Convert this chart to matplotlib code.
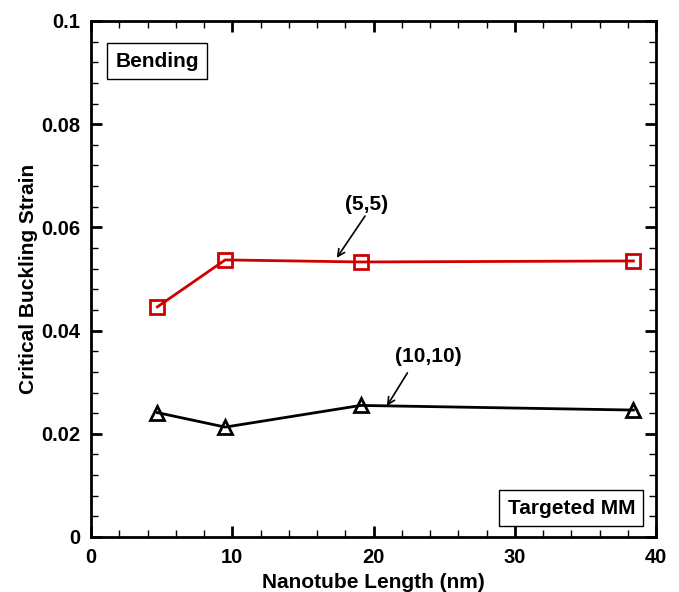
import matplotlib
matplotlib.use('Agg')
import matplotlib.pyplot as plt
from matplotlib.ticker import MultipleLocator

plt.rcParams['font.family'] = ['Liberation Sans', 'DejaVu Sans']
plt.rcParams['font.weight'] = 'bold'

length_55 = [4.7, 9.5, 19.1, 38.4]
strain_55 = [0.0446, 0.0537, 0.0533, 0.0535]
length_1010 = [4.7, 9.5, 19.1, 38.4]
strain_1010 = [0.0241, 0.0213, 0.0255, 0.0246]

fig = plt.figure(figsize=(6.79, 5.92), dpi=100)
ax = fig.add_axes([91/679, 55/592, 565/679, 516/592])

ax.plot(length_55, strain_55, color='#d00000', lw=2, marker='s', ms=9.5,
        mfc='none', mec='#d00000', mew=2)
ax.plot(length_1010, strain_1010, color='black', lw=2, marker='^', ms=10.5,
        mfc='none', mec='black', mew=2)

# labels and pointer arrows
ax.text(19.5, 0.0645, '(5,5)', ha='center', va='center', fontsize=15, fontweight='bold')
ax.annotate('', xy=(17.4, 0.0541), xytext=(19.4, 0.0622),
            arrowprops=dict(arrowstyle='->,head_length=0.5,head_width=0.25',
                            color='black', lw=1.2, shrinkA=0, shrinkB=0))
ax.text(23.9, 0.0349, '(10,10)', ha='center', va='center', fontsize=15, fontweight='bold')
ax.annotate('', xy=(20.95, 0.0254), xytext=(22.4, 0.0318),
            arrowprops=dict(arrowstyle='->,head_length=0.5,head_width=0.25',
                            color='black', lw=1.2, shrinkA=0, shrinkB=0))

ax.text(0.117, 0.922, 'Bending', transform=ax.transAxes, ha='center', va='center',
        fontsize=15, fontweight='bold',
        bbox=dict(boxstyle='square,pad=0.4', fc='white', ec='black', lw=1))
ax.text(0.85, 0.056, 'Targeted MM', transform=ax.transAxes, ha='center', va='center',
        fontsize=15, fontweight='bold',
        bbox=dict(boxstyle='square,pad=0.4', fc='white', ec='black', lw=1))

ax.set_xlim(0, 40)
ax.set_ylim(0, 0.1)
ax.xaxis.set_major_locator(MultipleLocator(10))
ax.xaxis.set_minor_locator(MultipleLocator(2))
ax.yaxis.set_minor_locator(MultipleLocator(0.004))
ax.set_yticks([0, 0.02, 0.04, 0.06, 0.08, 0.1])
ax.set_yticklabels(['0', '0.02', '0.04', '0.06', '0.08', '0.1'])
ax.tick_params(which='both', direction='in', top=True, right=True, labelsize=14.5, pad=8)
ax.tick_params(which='major', length=8, width=2)
ax.tick_params(which='minor', length=5, width=1)
for s in ax.spines.values():
    s.set_linewidth(2)

ax.set_xlabel('Nanotube Length (nm)', fontsize=15, fontweight='bold', labelpad=4)
ax.set_ylabel('Critical Buckling Strain', fontsize=15, fontweight='bold', labelpad=2)

fig.savefig('out.png', dpi=100, facecolor='white')
